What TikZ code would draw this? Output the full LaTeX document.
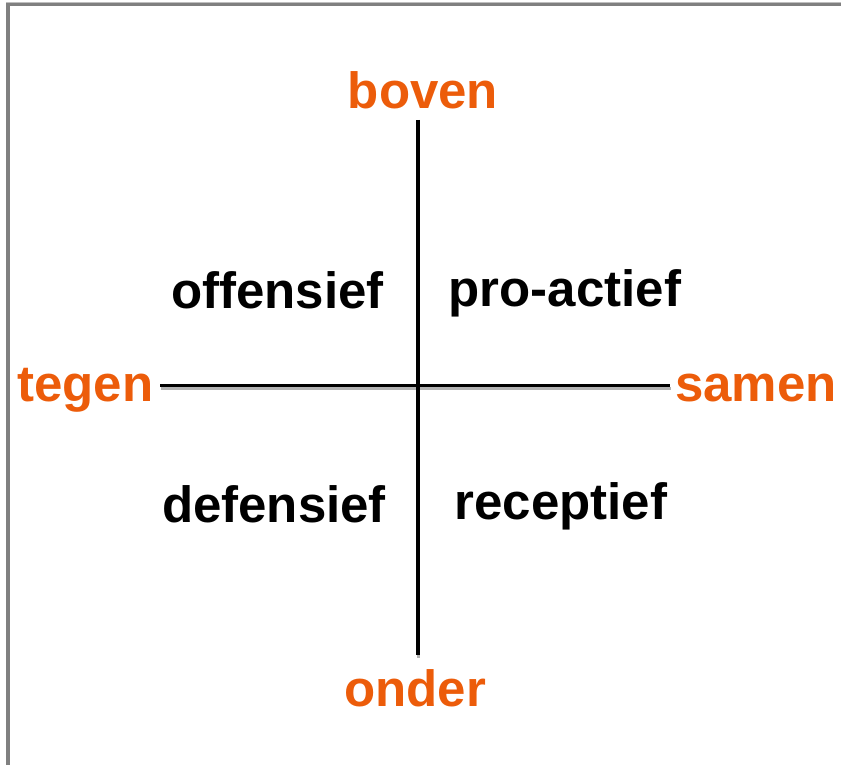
\documentclass[tikz,border=0pt]{standalone}
\usepackage{fontspec}
\setmainfont{Liberation Sans}
\definecolor{axisorange}{RGB}{236,92,10}
\definecolor{framegray}{RGB}{128,128,128}
\begin{document}
\begin{tikzpicture}[x=1pt,y=1pt,
  lbl/.style={inner sep=0pt, anchor=base, font=\fontsize{51}{61}\selectfont\bfseries},
  pole/.style={lbl, text=axisorange},
  quad/.style={lbl, text=black},
  axisline/.style={line width=3.8pt, black},
  axisshadow/.style={line width=3.8pt, black!30}]
\useasboundingbox (0,0) rectangle (841,-765);
% frame (top and left edges)
\draw[line width=1.2pt, black!25] (6,-2.4) -- (841,-2.4);
\draw[line width=3.2pt, framegray] (6,-4.6) -- (841,-4.6);
\draw[line width=4.2pt, framegray] (8,-3) -- (8,-765);
% axes
\coordinate (vt) at (418,-120);
\coordinate (vb) at (418,-655);
\coordinate (hl) at (160,-385.5);
\coordinate (hr) at (670,-385.5);
\coordinate (vts) at (418.5,-122.5);
\coordinate (vbs) at (418.5,-657.5);
\coordinate (hls) at (161,-388.5);
\coordinate (hrs) at (671,-388.5);
\draw[axisshadow] (hls) -- (hrs);
\draw[axisshadow] (vts) -- (vbs);
\draw[axisline] (hl) -- (hr);
\draw[axisline] (vt) -- (vb);
% pole labels
\node[pole] (boven) at (423,-109) {boven};
\node[pole] (onder) at (415,-706) {onder};
\node[pole] (tegen) at (85.5,-401) {tegen};
\node[pole] (samen) at (756,-401) {samen};
% quadrant labels
\node[quad] (offensief) at (277.5,-308) {offensief};
\node[quad] (proactief) at (565,-306) {pro-actief};
\node[quad] (defensief) at (274,-522) {defensief};
\node[quad] (receptief) at (561,-519) {receptief};
\end{tikzpicture}
\end{document}
